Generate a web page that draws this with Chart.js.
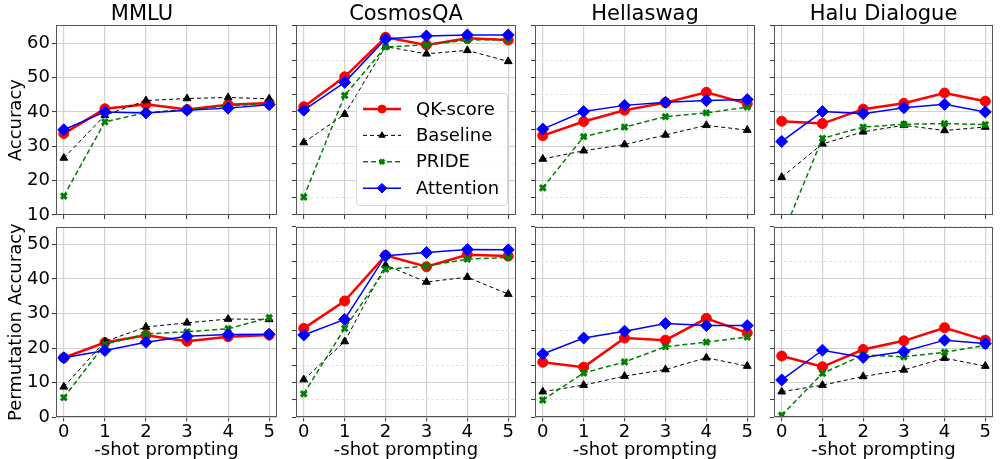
<!DOCTYPE html>
<html>
<head>
<meta charset="utf-8">
<script src="https://cdn.jsdelivr.net/npm/chart.js@4.4.1/dist/chart.umd.min.js"></script>
<style>
  html, body { margin: 0; padding: 0; background: #fff; }
  #wrap { position: relative; width: 1001px; height: 459px; overflow: hidden; }
  #wrap canvas { position: absolute; }
</style>
</head>
<body>
<div id="wrap"></div>
<script>
const tasks = ["MMLU", "CosmosQA", "Hellaswag", "Halu Dialogue"];
const shots = [0, 1, 2, 3, 4, 5];
const methods = ["QK-score", "Baseline", "PRIDE", "Attention"];

// Accuracy (top row), one row per task
const accQK = [
  [33.7, 40.9, 42.2, 40.7, 42.1, 42.6],
  [41.5, 50.2, 61.7, 59.5, 61.4, 60.9],
  [33.1, 37.2, 40.5, 42.7, 45.7, 42.4],
  [37.3, 36.6, 40.8, 42.5, 45.5, 43.1]
];
const accBase = [
  [26.6, 39.0, 43.3, 43.9, 44.2, 43.8],
  [31.1, 39.3, 59.0, 56.9, 57.9, 54.7],
  [26.3, 28.7, 30.5, 33.3, 36.1, 34.7],
  [21.0, 30.7, 34.2, 36.1, 34.6, 35.6]
];
const accPride = [
  [15.5, 37.1, 39.8, 40.7, 41.7, 42.5],
  [15.2, 44.8, 58.9, 59.5, 60.9, 61.1],
  [17.9, 32.8, 35.6, 38.6, 39.7, 41.4],
  [3.6, 32.3, 35.6, 36.4, 36.6, 36.3]
];
const accAttn = [
  [34.8, 40.0, 39.7, 40.5, 41.1, 42.1],
  [40.5, 48.6, 61.2, 62.1, 62.4, 62.4],
  [35.0, 40.1, 41.9, 42.8, 43.3, 43.6],
  [31.4, 40.1, 39.5, 41.2, 42.2, 40.0]
];

// Permutation accuracy (bottom row)
const permQK = [
  [17.2, 21.6, 23.7, 22.0, 23.3, 23.8],
  [25.7, 33.6, 46.8, 43.5, 47.0, 46.6],
  [15.9, 14.5, 22.9, 22.3, 28.6, 24.4],
  [17.7, 14.6, 19.6, 22.1, 25.9, 22.3]
];
const permBase = [
  [8.8, 21.9, 26.1, 27.3, 28.4, 28.3],
  [10.9, 21.9, 44.0, 39.1, 40.5, 35.6],
  [7.4, 9.3, 11.9, 13.8, 17.2, 14.8],
  [7.4, 9.3, 11.8, 13.7, 17.1, 14.8]
];
const permPride = [
  [5.7, 21.1, 24.1, 24.7, 25.6, 28.8],
  [6.8, 25.7, 42.8, 43.7, 45.7, 46.2],
  [5.0, 12.8, 16.0, 20.4, 21.7, 23.2],
  [0.6, 12.7, 18.0, 17.5, 18.8, 20.8]
];
const permAttn = [
  [17.2, 19.3, 21.7, 23.4, 23.9, 24.0],
  [23.8, 28.3, 46.7, 47.6, 48.5, 48.4],
  [18.3, 22.9, 24.9, 27.1, 26.5, 26.5],
  [10.8, 19.4, 17.3, 19.0, 22.3, 21.3]
];

const FONT = "'DejaVu Sans', sans-serif";

const styles = [
  { borderColor: "#ff0000", pointBackgroundColor: "#ff0000", pointBorderColor: "#ff0000", borderWidth: 2.5, borderDash: [], pointStyle: "circle", pointRadius: 5, pointBorderWidth: 1, order: 3 },
  { borderColor: "#000000", pointBackgroundColor: "#000000", pointBorderColor: "#000000", borderWidth: 1, borderDash: [4, 3], pointStyle: "triangle", pointRadius: 4.5, pointBorderWidth: 1, order: 2 },
  { borderColor: "#008000", pointBackgroundColor: "#008000", pointBorderColor: "#008000", borderWidth: 1.5, borderDash: [5, 3], pointStyle: "crossRot", pointRadius: 4, pointBorderWidth: 3, order: 1 },
  { borderColor: "#0000ff", pointBackgroundColor: "#0000ff", pointBorderColor: "#0000ff", borderWidth: 1.5, borderDash: [], pointStyle: "rectRot", pointRadius: 6, pointBorderWidth: 1, order: 0 }
];

const rows = [
  { title: "Accuracy", min: 10, max: 65.2, series: [accQK, accBase, accPride, accAttn] },
  { title: "Permutation Accuracy", min: 0, max: 55, series: [permQK, permBase, permPride, permAttn] }
];

const boxLeft = [56, 295, 534, 773];
const boxWidth = [228, 228, 228, 227];

// matplotlib-like spines on all four sides
const frame = {
  id: "frame",
  afterDatasetsDraw(chart) {
    const { ctx, chartArea: a } = chart;
    ctx.save();
    ctx.strokeStyle = "#555";
    ctx.lineWidth = 1;
    const l = Math.round(a.left) + 0.5, t = Math.round(a.top) + 0.5;
    ctx.strokeRect(l, t, Math.round(a.right) - Math.round(a.left) - 1, Math.round(a.bottom) - Math.round(a.top) - 1);
    ctx.restore();
  }
};

// legend box inside the CosmosQA accuracy panel
const insideLegend = {
  id: "insideLegend",
  afterDraw(chart) {
    const { ctx, chartArea: a } = chart;
    const w = 151, h = 112;
    const x0 = Math.round(a.right - 9 - w), y0 = Math.round(a.bottom - 10 - h);
    ctx.save();
    ctx.fillStyle = "rgba(255,255,255,0.85)";
    ctx.strokeStyle = "#d6d6d6";
    ctx.lineWidth = 1;
    ctx.beginPath();
    ctx.roundRect(x0 + 0.5, y0 + 0.5, w, h, 3);
    ctx.fill();
    ctx.stroke();
    chart.data.datasets.forEach((ds, i) => {
      const y = y0 + 16 + i * 26.4;
      ctx.strokeStyle = ds.borderColor;
      ctx.lineWidth = ds.borderWidth;
      ctx.setLineDash(ds.borderDash);
      ctx.beginPath();
      ctx.moveTo(x0 + 7, y);
      ctx.lineTo(x0 + 45, y);
      ctx.stroke();
      ctx.setLineDash([]);
      ctx.fillStyle = ds.pointBackgroundColor;
      ctx.strokeStyle = ds.pointBorderColor;
      ctx.lineWidth = ds.pointBorderWidth;
      Chart.helpers.drawPoint(ctx, { pointStyle: ds.pointStyle, radius: ds.pointRadius * 0.8, borderWidth: ds.pointBorderWidth, rotation: 0 }, x0 + 26, y);
      ctx.fillStyle = "#000";
      ctx.font = "18px " + FONT;
      ctx.textBaseline = "middle";
      ctx.textAlign = "left";
      ctx.fillText(ds.label, x0 + 60, y + 1);
    });
    ctx.restore();
  }
};

const gridColor = (c) => (c.tick && c.tick.value % 10 === 0 ? "#d2d2d2" : "#e6e6e6");
const gridDash = (c) => (c.tick && c.tick.value % 10 !== 0 ? [3, 2] : []);

const wrap = document.getElementById("wrap");

rows.forEach((row, r) => {
  tasks.forEach((task, c) => {
    const yw = c === 0 ? 56 : 6;
    const canvasLeft = boxLeft[c] - yw;
    const width = yw + boxWidth[c];
    const top = r === 0 ? 0 : 220;
    const height = r === 0 ? 222 : 239;
    const xh = r === 0 ? 5.3 : 41.7;

    const canvas = document.createElement("canvas");
    canvas.width = width;
    canvas.height = height;
    canvas.style.left = canvasLeft + "px";
    canvas.style.top = top + "px";
    canvas.style.width = width + "px";
    canvas.style.height = height + "px";
    wrap.appendChild(canvas);

    const datasets = methods.map((m, k) => Object.assign({
      label: m,
      data: shots.map((s, j) => ({ x: s, y: row.series[k][c][j] })),
      tension: 0,
      fill: false
    }, styles[k]));

    new Chart(canvas.getContext("2d"), {
      type: "line",
      data: { datasets },
      options: {
        responsive: false,
        animation: false,
        devicePixelRatio: 1,
        events: [],
        layout: { padding: { top: r === 0 ? 0 : 6, right: 0, left: 0, bottom: 0 } },
        plugins: {
          legend: { display: false },
          tooltip: { enabled: false },
          title: {
            display: r === 0,
            text: task,
            color: "#000",
            padding: { top: 1.5, bottom: -1.5 },
            font: { family: FONT, size: 21, weight: "normal", lineHeight: 1.205 }
          }
        },
        scales: {
          x: {
            type: "linear",
            min: -0.19,
            max: 5.19,
            afterBuildTicks: (s) => { s.ticks = shots.map((v) => ({ value: v })); },
            afterFit: (s) => { s.height = xh; s.paddingLeft = 0; s.paddingRight = 0; },
            grid: { color: "#d2d2d2", lineWidth: 1.2, tickColor: "#333", tickLength: 4, tickWidth: 1 },
            border: { display: false },
            ticks: { display: r === 1, color: "#000", padding: 0, maxRotation: 0, autoSkip: false, font: { family: FONT, size: 18 } },
            title: { display: r === 1, text: "-shot prompting", color: "#000", padding: { top: 0, bottom: 0 }, font: { family: FONT, size: 18, lineHeight: 1 } }
          },
          y: {
            type: "linear",
            min: row.min,
            max: row.max,
            afterBuildTicks: (s) => {
              const t = [];
              for (let v = row.min; v <= row.max; v += 5) t.push({ value: v });
              s.ticks = t;
            },
            afterFit: (s) => { s.width = yw; s.paddingTop = 0; s.paddingBottom = 0; },
            grid: { color: gridColor, lineWidth: 1.1, tickColor: "#333", tickLength: 4, tickWidth: 1 },
            border: { display: false, dash: gridDash },
            ticks: {
              display: c === 0,
              color: "#000",
              padding: 2,
              font: { family: FONT, size: 18 },
              callback: (v) => (v % 10 === 0 ? v : "")
            },
            title: { display: c === 0, text: row.title, color: "#000", padding: { top: 6, bottom: 0 }, font: { family: FONT, size: 18 } }
          }
        }
      },
      plugins: r === 0 && c === 1 ? [frame, insideLegend] : [frame]
    });
  });
});
</script>
</body>
</html>
